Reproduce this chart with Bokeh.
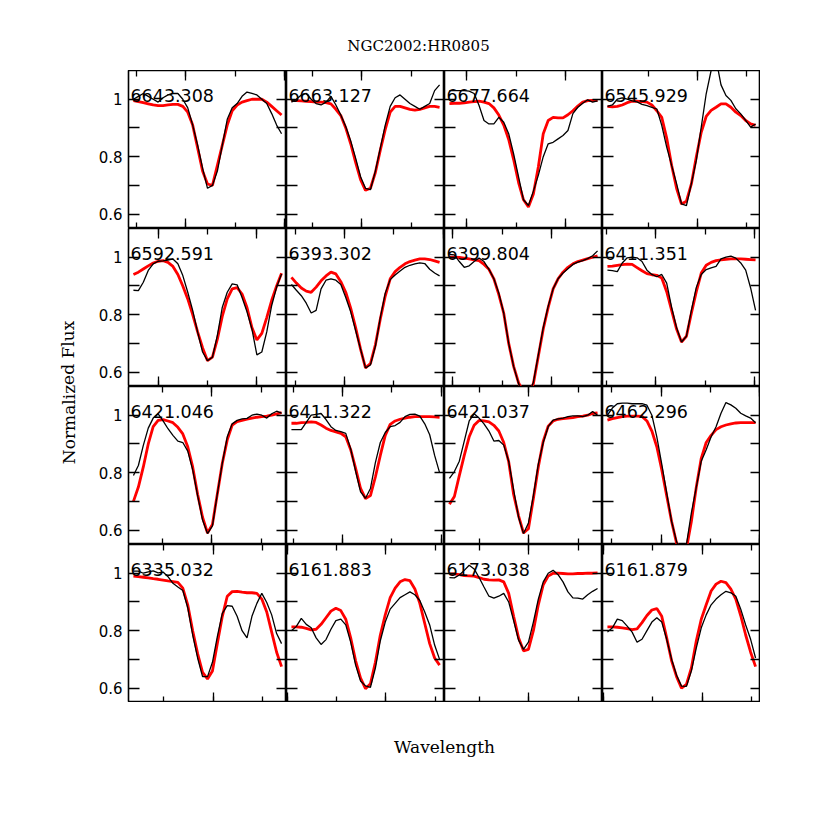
from bokeh.plotting import figure
from bokeh.models import (Range1d, LinearAxis, FixedTicker, SingleIntervalTicker,
                          NumeralTickFormatter, Label, ColumnDataSource)
from bokeh.layouts import gridplot, column, row
from bokeh.embed import file_html
from bokeh.resources import INLINE

TITLE = "NGC2002:HR0805"
XLABEL = "Wavelength"
YLABEL = "Normalized Flux"

line_labels = ["6643.308", "6663.127", "6677.664", "6545.929",
               "6592.591", "6393.302", "6399.804", "6411.351",
               "6421.046", "6411.322", "6421.037", "6462.296",
               "6335.032", "6161.883", "6173.038", "6161.879"]
line_centers = [6643.308, 6663.127, 6677.664, 6545.929,
                6592.591, 6393.302, 6399.804, 6411.351,
                6421.046, 6411.322, 6421.037, 6462.296,
                6335.032, 6161.883, 6173.038, 6161.879]
center_shift = -0.09          # observed offset of the line cores (Angstrom)
half_window = 0.8             # half width of each panel (Angstrom)

# wavelength offsets from the panel centre at which the spectra were read
dlam = [-0.75, -0.70, -0.65, -0.60, -0.55, -0.50, -0.45, -0.40, -0.35, -0.30,
        -0.25, -0.20, -0.15, -0.10, -0.05, 0.00, 0.05, 0.10, 0.15, 0.20,
        0.25, 0.30, 0.35, 0.40, 0.45, 0.50, 0.55, 0.60, 0.65, 0.70, 0.75]

y_ticks = [0.6, 0.8, 1.0]
y_minor_ticks = [0.7, 0.9]
y_min, y_max = 0.55, 1.10

# observed (black) and synthetic (red) normalized flux, one pair per panel
obs_01 = [1.0, 1.01, 1.02, 1.01, 1.0, 0.99, 1.005, 1.015, 1.02, 1.02, 1.0, 0.97, 0.91, 0.84, 0.76, 0.69,
          0.70, 0.75, 0.84, 0.93, 0.97, 0.985, 1.01, 1.025, 1.02, 1.015, 1.0, 0.985, 0.95, 0.91, 0.88]
mod_01 = [0.995, 0.992, 0.988, 0.984, 0.98, 0.978, 0.978, 0.98, 0.982, 0.982, 0.975, 0.955, 0.91, 0.83, 0.75, 0.705,
          0.70, 0.77, 0.84, 0.91, 0.96, 0.98, 0.99, 0.995, 1.0, 1.0, 1.0, 0.99, 0.975, 0.96, 0.945]
obs_02 = [0.99, 1.0, 1.015, 1.02, 1.0, 0.985, 0.98, 0.99, 1.01, 0.98, 0.945, 0.905, 0.855, 0.795, 0.73, 0.69,
          0.685, 0.75, 0.83, 0.91, 0.975, 1.005, 1.015, 1.0, 0.985, 0.975, 0.965, 0.975, 0.985, 1.03, 1.05]
mod_02 = [0.995, 0.995, 0.994, 0.993, 0.992, 0.99, 0.99, 0.988, 0.984, 0.965, 0.943, 0.90, 0.845, 0.78, 0.72, 0.683,
          0.69, 0.745, 0.823, 0.895, 0.955, 0.975, 0.975, 0.97, 0.965, 0.962, 0.965, 0.97, 0.975, 0.975, 0.972]
obs_03 = [1.03, 1.03, 1.03, 1.03, 1.028, 1.02, 0.978, 0.926, 0.914, 0.914, 0.937, 0.92, 0.88, 0.81, 0.73, 0.65,
          0.63, 0.68, 0.735, 0.80, 0.845, 0.85, 0.862, 0.874, 0.891, 0.95, 0.972, 0.986, 0.998, 0.99, 0.994]
mod_03 = [0.985, 0.986, 0.986, 0.987, 0.99, 0.992, 0.993, 0.99, 0.985, 0.97, 0.945, 0.91, 0.86, 0.79, 0.71, 0.65,
          0.625, 0.67, 0.764, 0.88, 0.926, 0.937, 0.935, 0.935, 0.946, 0.96, 0.976, 0.99, 0.995, 0.996, 0.995]
obs_04 = [0.975, 0.98, 1.0, 1.005, 1.0, 0.994, 0.991, 0.982, 0.978, 0.972, 0.966, 0.909, 0.833, 0.77, 0.706, 0.636,
          0.63, 0.706, 0.787, 0.903, 1.019, 1.10, 1.14, 1.05, 1.013, 0.996, 0.967, 0.949, 0.926, 0.903, 0.914]
mod_04 = [0.975, 0.973, 0.975, 0.98, 0.988, 0.993, 0.993, 0.992, 0.99, 0.98, 0.96, 0.937, 0.865, 0.77, 0.69, 0.635,
          0.645, 0.705, 0.80, 0.885, 0.94, 0.961, 0.972, 0.984, 0.984, 0.972, 0.955, 0.943, 0.926, 0.914, 0.909]
obs_05 = [0.885, 0.884, 0.913, 0.954, 0.977, 0.986, 0.987, 0.99, 0.994, 0.977, 0.936, 0.878, 0.815, 0.739, 0.67, 0.64,
          0.652, 0.728, 0.826, 0.878, 0.907, 0.904, 0.86, 0.81, 0.75, 0.66, 0.67, 0.74, 0.832, 0.896, 0.942]
mod_05 = [0.94, 0.948, 0.959, 0.97, 0.98, 0.986, 0.988, 0.982, 0.968, 0.94, 0.90, 0.855, 0.80, 0.74, 0.685, 0.64,
          0.652, 0.715, 0.795, 0.855, 0.89, 0.894, 0.872, 0.825, 0.755, 0.712, 0.735, 0.79, 0.85, 0.90, 0.944]
obs_06 = [0.905, 0.885, 0.866, 0.84, 0.806, 0.815, 0.89, 0.92, 0.925, 0.92, 0.905, 0.86, 0.81, 0.745, 0.68, 0.615,
          0.625, 0.69, 0.79, 0.875, 0.922, 0.938, 0.952, 0.965, 0.972, 0.977, 0.98, 0.978, 0.958, 0.945, 0.935]
mod_06 = [0.93, 0.91, 0.893, 0.882, 0.878, 0.896, 0.918, 0.935, 0.948, 0.942, 0.915, 0.878, 0.823, 0.755, 0.68, 0.615,
          0.63, 0.695, 0.785, 0.865, 0.925, 0.95, 0.965, 0.977, 0.985, 0.99, 0.994, 0.994, 0.992, 0.987, 0.982]
obs_07 = [1.01, 1.008, 0.985, 0.965, 0.97, 0.985, 0.997, 0.985, 0.958, 0.925, 0.875, 0.805, 0.70, 0.62, 0.56, 0.525,
          0.52, 0.565, 0.66, 0.755, 0.83, 0.89, 0.925, 0.945, 0.96, 0.975, 0.983, 0.988, 0.995, 1.005, 1.022]
mod_07 = [1.0, 1.0, 0.999, 0.997, 0.994, 0.991, 0.988, 0.975, 0.958, 0.925, 0.87, 0.805, 0.70, 0.62, 0.563, 0.53,
          0.52, 0.56, 0.655, 0.75, 0.825, 0.89, 0.925, 0.948, 0.965, 0.977, 0.985, 0.99, 0.995, 1.0, 1.005]
obs_08 = [0.955, 0.953, 0.95, 0.98, 0.998, 1.0, 0.998, 0.985, 0.955, 0.94, 0.932, 0.94, 0.91, 0.825, 0.755, 0.705,
          0.725, 0.815, 0.895, 0.94, 0.957, 0.963, 0.968, 0.994, 1.0, 1.004, 0.997, 0.98, 0.955, 0.893, 0.815]
mod_08 = [0.968, 0.969, 0.972, 0.974, 0.976, 0.975, 0.964, 0.953, 0.943, 0.939, 0.937, 0.928, 0.88, 0.815, 0.75, 0.705,
          0.725, 0.805, 0.88, 0.945, 0.972, 0.982, 0.988, 0.991, 0.993, 0.994, 0.994, 0.994, 0.993, 0.992, 0.991]
obs_09 = [0.79, 0.825, 0.895, 0.955, 0.99, 1.005, 0.98, 0.953, 0.93, 0.91, 0.905, 0.875, 0.81, 0.72, 0.635, 0.588,
          0.615, 0.727, 0.833, 0.925, 0.97, 0.982, 0.987, 0.989, 1.0, 1.004, 1.0, 0.99, 1.005, 1.014, 1.007]
mod_09 = [0.70, 0.75, 0.82, 0.90, 0.96, 0.982, 0.985, 0.98, 0.974, 0.958, 0.935, 0.89, 0.82, 0.725, 0.645, 0.59,
          0.62, 0.727, 0.833, 0.914, 0.966, 0.978, 0.982, 0.986, 0.99, 0.993, 0.995, 0.997, 1.0, 1.005, 1.009]
obs_10 = [0.95, 0.95, 0.95, 0.975, 1.0, 1.003, 1.006, 0.985, 0.96, 0.947, 0.943, 0.937, 0.883, 0.805, 0.733, 0.711,
          0.745, 0.835, 0.905, 0.94, 0.96, 0.964, 0.975, 0.995, 1.003, 1.004, 0.997, 0.97, 0.932, 0.86, 0.80]
mod_10 = [0.972, 0.972, 0.974, 0.975, 0.977, 0.975, 0.966, 0.955, 0.947, 0.942, 0.937, 0.925, 0.88, 0.815, 0.745, 0.71,
          0.72, 0.785, 0.86, 0.93, 0.968, 0.98, 0.986, 0.99, 0.993, 0.995, 0.995, 0.995, 0.995, 0.994, 0.993]
obs_11 = [0.78, 0.804, 0.84, 0.91, 0.98, 1.005, 0.99, 0.97, 0.945, 0.91, 0.912, 0.896, 0.84, 0.74, 0.645, 0.588,
          0.625, 0.72, 0.83, 0.905, 0.96, 0.983, 0.987, 0.99, 0.995, 0.998, 0.998, 0.995, 1.0, 1.013, 1.0]
mod_11 = [0.69, 0.717, 0.79, 0.86, 0.925, 0.965, 0.982, 0.98, 0.977, 0.965, 0.945, 0.905, 0.838, 0.724, 0.65, 0.59,
          0.605, 0.71, 0.82, 0.91, 0.962, 0.98, 0.986, 0.988, 0.99, 0.992, 0.995, 0.997, 1.0, 1.006, 1.008]
obs_12 = [1.0, 1.025, 1.04, 1.042, 1.042, 1.04, 1.04, 1.04, 1.035, 1.0, 0.925, 0.83, 0.73, 0.63, 0.56, 0.52,
          0.55, 0.66, 0.75, 0.84, 0.88, 0.925, 0.96, 1.007, 1.044, 1.036, 1.024, 1.007, 0.998, 0.99, 0.974]
mod_12 = [0.983, 0.988, 0.992, 0.995, 0.997, 0.997, 0.997, 0.996, 0.98, 0.945, 0.89, 0.81, 0.72, 0.63, 0.555, 0.52,
          0.535, 0.63, 0.75, 0.85, 0.905, 0.93, 0.95, 0.96, 0.966, 0.97, 0.973, 0.974, 0.974, 0.974, 0.974]
obs_13 = [1.007, 1.007, 1.0, 1.005, 1.008, 1.001, 1.004, 0.988, 0.965, 0.952, 0.94, 0.88, 0.785, 0.705, 0.64, 0.64,
          0.69, 0.78, 0.86, 0.887, 0.885, 0.85, 0.80, 0.775, 0.85, 0.895, 0.93, 0.898, 0.855, 0.79, 0.755]
mod_13 = [0.99, 0.988, 0.986, 0.984, 0.981, 0.979, 0.976, 0.973, 0.971, 0.968, 0.948, 0.89, 0.80, 0.72, 0.655, 0.632,
          0.66, 0.756, 0.85, 0.92, 0.936, 0.937, 0.934, 0.932, 0.932, 0.93, 0.91, 0.865, 0.795, 0.725, 0.675]
obs_14 = [0.80, 0.815, 0.843, 0.822, 0.81, 0.775, 0.752, 0.769, 0.805, 0.835, 0.84, 0.82, 0.76, 0.68, 0.625, 0.608,
          0.603, 0.67, 0.765, 0.83, 0.875, 0.895, 0.915, 0.925, 0.935, 0.925, 0.905, 0.865, 0.82, 0.75, 0.70]
mod_14 = [0.813, 0.813, 0.812, 0.808, 0.803, 0.805, 0.822, 0.845, 0.868, 0.878, 0.87, 0.84, 0.775, 0.695, 0.635, 0.598,
          0.615, 0.69, 0.785, 0.855, 0.915, 0.948, 0.97, 0.978, 0.974, 0.945, 0.895, 0.825, 0.755, 0.705, 0.68]
obs_15 = [0.985, 0.984, 0.994, 1.01, 1.028, 1.015, 0.985, 0.952, 0.92, 0.913, 0.92, 0.93, 0.90, 0.835, 0.767, 0.735,
          0.76, 0.83, 0.91, 0.97, 1.0, 1.01, 0.995, 0.97, 0.935, 0.914, 0.913, 0.91, 0.925, 0.937, 0.947]
mod_15 = [0.998, 0.998, 0.995, 0.992, 0.991, 0.99, 0.985, 0.979, 0.977, 0.976, 0.977, 0.97, 0.93, 0.85, 0.775, 0.73,
          0.735, 0.80, 0.89, 0.96, 0.99, 1.0, 1.0, 0.999, 0.998, 0.998, 0.999, 0.999, 1.0, 1.0, 1.001]
obs_16 = [0.795, 0.81, 0.84, 0.835, 0.816, 0.795, 0.76, 0.77, 0.80, 0.83, 0.845, 0.83, 0.77, 0.70, 0.645, 0.607,
          0.606, 0.66, 0.74, 0.81, 0.855, 0.89, 0.91, 0.925, 0.937, 0.932, 0.92, 0.875, 0.82, 0.77, 0.705]
mod_16 = [0.813, 0.813, 0.812, 0.81, 0.807, 0.804, 0.806, 0.828, 0.853, 0.872, 0.877, 0.85, 0.775, 0.695, 0.64, 0.60,
          0.613, 0.67, 0.765, 0.84, 0.89, 0.938, 0.962, 0.972, 0.967, 0.945, 0.91, 0.852, 0.785, 0.725, 0.675]

observed = [obs_01, obs_02, obs_03, obs_04, obs_05, obs_06, obs_07, obs_08,
            obs_09, obs_10, obs_11, obs_12, obs_13, obs_14, obs_15, obs_16]
synthetic = [mod_01, mod_02, mod_03, mod_04, mod_05, mod_06, mod_07, mod_08,
             mod_09, mod_10, mod_11, mod_12, mod_13, mod_14, mod_15, mod_16]

FRAME_W = 158
FRAME_H = 158
LEFT_BORDER = 40
YLAB_W = 88
TITLE_H = 70
XLAB_H = 96
GRID_W = LEFT_BORDER + 4 * FRAME_W
TOTAL_W = YLAB_W + GRID_W


def quiet_axis(ax, tick_in, minor_in):
    ax.axis_line_color = None
    ax.major_tick_out = 0
    ax.minor_tick_out = 0
    ax.major_tick_in = tick_in
    ax.minor_tick_in = minor_in
    ax.major_tick_line_color = "black"
    ax.minor_tick_line_color = "black"
    ax.major_tick_line_width = 1.3
    ax.minor_tick_line_width = 1.3
    ax.major_label_text_font_size = "0px"
    ax.major_label_text_color = None
    ax.major_label_standoff = 0
    ax.axis_label = None


figs = []
for i, (lab, c, obs, mod) in enumerate(zip(line_labels, line_centers, observed, synthetic)):
    col = i % 4
    mid = c + center_shift
    x0, x1 = mid - half_window, mid + half_window
    p = figure(frame_width=FRAME_W, frame_height=FRAME_H, output_backend="svg",
               toolbar_location=None, x_range=Range1d(x0, x1), y_range=Range1d(y_min, y_max),
               min_border=0, min_border_left=(LEFT_BORDER if col == 0 else 0),
               background_fill_color="white", border_fill_color="white")
    p.xgrid.visible = False
    p.ygrid.visible = False
    p.outline_line_color = "black"
    p.outline_line_width = 1.6
    p.outline_line_alpha = 1.0

    bx = p.xaxis[0]
    bx.ticker = SingleIntervalTicker(interval=1.0, num_minor_ticks=2)
    quiet_axis(bx, 10, 6)
    ax_top = LinearAxis(ticker=SingleIntervalTicker(interval=1.0, num_minor_ticks=2))
    quiet_axis(ax_top, 10, 6)
    p.add_layout(ax_top, "above")

    ly = p.yaxis[0]
    ly.ticker = FixedTicker(ticks=y_ticks, minor_ticks=y_minor_ticks)
    quiet_axis(ly, 11, 11)
    if col == 0:
        ly.formatter = NumeralTickFormatter(format="0.[0]")
        ly.major_label_text_font_size = "15px"
        ly.major_label_text_font = "DejaVu Sans"
        ly.major_label_text_font_style = "normal"
        ly.major_label_text_color = "black"
        ly.major_label_standoff = 6
    ay_right = LinearAxis(ticker=FixedTicker(ticks=y_ticks, minor_ticks=y_minor_ticks))
    quiet_axis(ay_right, 10, 10)
    p.add_layout(ay_right, "right")

    src = ColumnDataSource(dict(wl=[mid + d for d in dlam], obs=obs, mod=mod))
    p.line("wl", "mod", source=src, line_color="red", line_width=2.8)
    p.line("wl", "obs", source=src, line_color="black", line_width=1.3)

    p.add_layout(Label(x=x0 + 0.02, y=1.013, text=lab, text_font="DejaVu Sans",
                       text_font_size="17.5px", text_color="black",
                       text_align="left", text_baseline="alphabetic"))
    figs.append(p)

grid = gridplot(figs, ncols=4, toolbar_location=None)


def text_box(w, h):
    f = figure(width=w, height=h, output_backend="svg", toolbar_location=None,
               x_range=Range1d(0, w), y_range=Range1d(0, h), min_border=0,
               x_axis_type=None, y_axis_type=None, outline_line_color=None,
               background_fill_color="white", border_fill_color="white")
    f.xgrid.visible = False
    f.ygrid.visible = False
    return f


title_fig = text_box(TOTAL_W, TITLE_H)
title_fig.add_layout(Label(x=418, y=TITLE_H - 45, text=TITLE, text_font="DejaVu Serif",
                           text_font_size="15px", text_align="center",
                           text_baseline="middle", text_color="black"))

ylab_fig = text_box(YLAB_W, 4 * FRAME_H)
ylab_fig.add_layout(Label(x=68, y=4 * FRAME_H - 322, text=YLABEL, text_font="DejaVu Serif",
                          text_font_size="17px", text_align="center", angle=1.5708,
                          text_baseline="middle", text_color="black"))

xlab_fig = text_box(TOTAL_W, XLAB_H)
xlab_fig.add_layout(Label(x=444, y=XLAB_H - 44, text=XLABEL, text_font="DejaVu Serif",
                          text_font_size="17px", text_align="center",
                          text_baseline="middle", text_color="black"))

layout = column(title_fig, row(ylab_fig, grid), xlab_fig)

with open("out.html", "w") as fh:
    fh.write(file_html(layout, INLINE))
